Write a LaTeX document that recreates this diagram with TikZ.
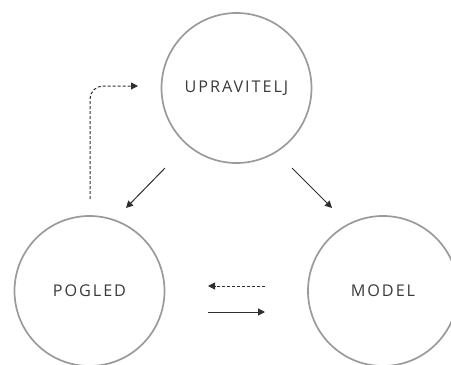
\documentclass[tikz,border=0pt]{standalone}
\usepackage{fontspec}
\setmainfont{Open Sans}
\newfontfamily\labelfont[LetterSpace=12]{Open Sans}
\usetikzlibrary{arrows.meta}
\definecolor{ringgray}{HTML}{9A9A9A}
\definecolor{inkgray}{HTML}{2E2E2E}
\definecolor{textgray}{HTML}{3A3A3A}
\tikzset{
  ring/.style={circle, draw=ringgray, line width=1.7pt, minimum size=150pt, inner sep=0pt,
    font=\labelfont\fontsize{16.2}{18}\selectfont, text=textgray},
  link/.style={draw=inkgray, line width=1pt, -{Triangle[length=7pt,width=7pt]}},
  dlink/.style={link, dash pattern=on 3pt off 2pt},
}
\begin{document}
\begin{tikzpicture}[x=1pt,y=-1pt]
\useasboundingbox (0,0) rectangle (451,365);
\node[ring] (upr) at (236.5,88) {UPRAVITELJ};
\node[ring] (pog) at (89.5,291) {POGLED};
\node[ring] (mod) at (383,291) {MODEL};
\coordinate (d1) at (90,199);
\coordinate (d2) at (138,86);
\coordinate (a1) at (165,168);
\coordinate (a2) at (126,208);
\coordinate (b1) at (292,168);
\coordinate (b2) at (332,208);
\coordinate (c1) at (265,286);
\coordinate (c2) at (208,286);
\coordinate (e1) at (208,312);
\coordinate (e2) at (265,312);
\draw[dlink, rounded corners=13pt] (d1) |- (d2);
\draw[link] (a1) -- (a2);
\draw[link] (b1) -- (b2);
\draw[dlink] (c1) -- (c2);
\draw[link] (e1) -- (e2);
\end{tikzpicture}
\end{document}
